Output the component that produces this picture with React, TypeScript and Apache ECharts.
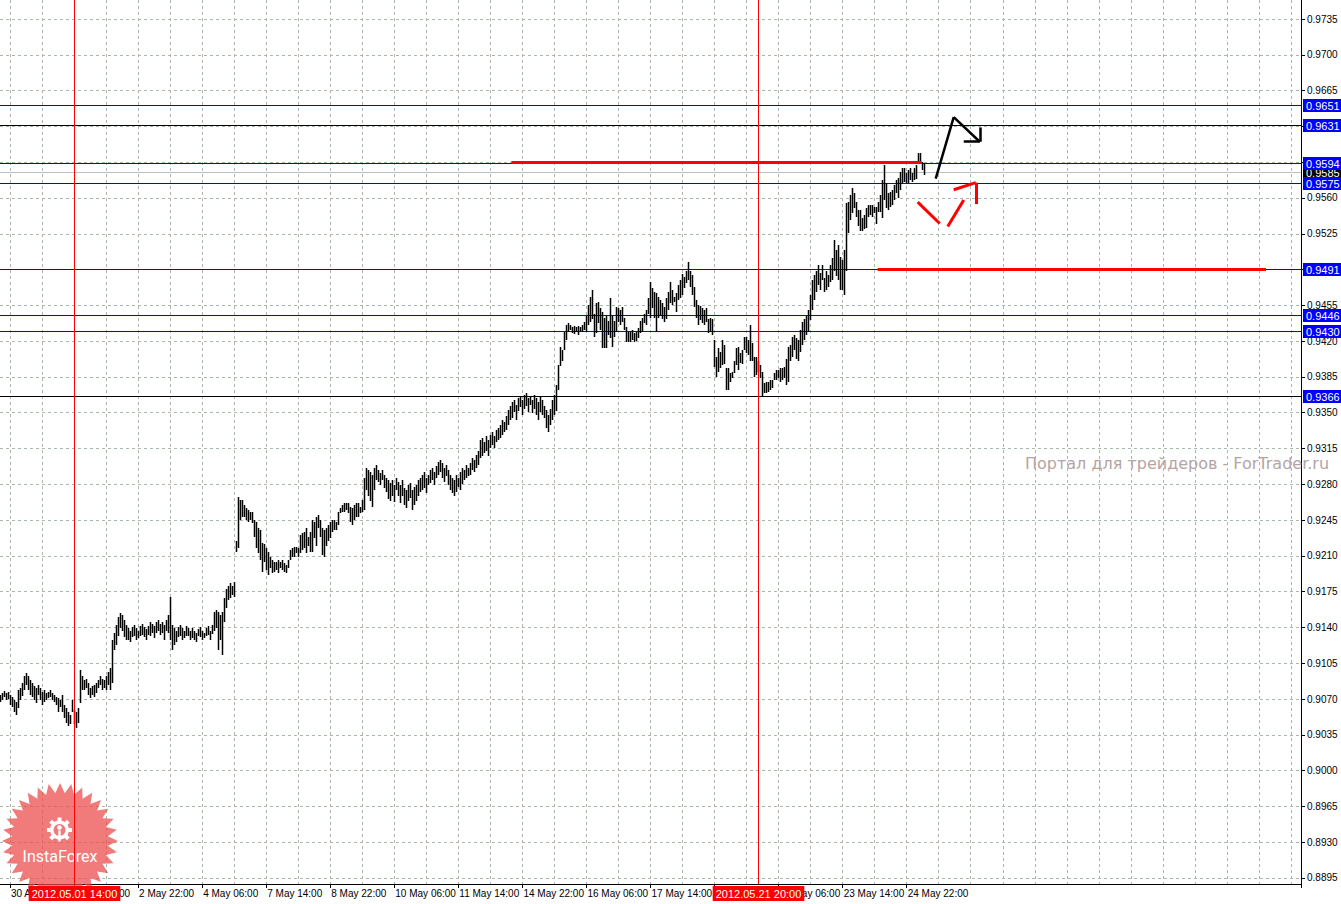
import React, { useEffect, useRef } from "react";
import * as echarts from "echarts";

// Bar highs / lows in pips (price * 10000), one H1 bar per category, starting at 30 Apr 01:00
const highs = [
  9074,9076,9078,9076,9077,9074,9072,9069,9067,9079,9081,9086,9093,9095,9093,9089,
  9086,9083,9081,9084,9081,9077,9079,9076,9077,9079,9076,9074,9072,9071,9069,9074,
  9064,9061,9057,9054,9069,9059,9057,9061,9098,9093,9089,9090,9086,9081,9083,9084,
  9086,9089,9093,9090,9089,9093,9096,9100,9128,9135,9142,9150,9154,9152,9147,9142,
  9139,9137,9140,9142,9139,9137,9141,9143,9140,9138,9141,9145,9143,9141,9145,9147,
  9143,9145,9142,9147,9152,9170,9142,9139,9137,9140,9142,9139,9137,9141,9139,9137,
  9139,9137,9135,9138,9140,9137,9135,9139,9141,9137,9142,9155,9157,9155,9152,9155,
  9169,9178,9181,9183,9181,9184,9225,9268,9265,9265,9260,9257,9255,9253,9253,9245,
  9243,9237,9235,9223,9222,9218,9214,9209,9206,9204,9204,9206,9204,9206,9203,9201,
  9206,9216,9218,9219,9219,9218,9230,9232,9233,9237,9228,9233,9245,9243,9248,9250,
  9245,9237,9235,9237,9240,9243,9245,9245,9243,9253,9257,9260,9262,9262,9262,9258,
  9257,9260,9262,9262,9258,9265,9286,9296,9294,9292,9289,9296,9299,9294,9291,9294,
  9289,9286,9284,9281,9284,9279,9286,9282,9279,9284,9276,9274,9279,9281,9274,9277,
  9279,9284,9286,9289,9292,9286,9289,9294,9296,9292,9298,9302,9304,9301,9296,9299,
  9294,9289,9286,9284,9289,9286,9292,9296,9294,9299,9296,9301,9306,9304,9309,9313,
  9323,9325,9321,9327,9323,9328,9331,9327,9333,9335,9338,9343,9341,9347,9353,9357,
  9360,9362,9358,9364,9366,9362,9367,9369,9364,9366,9362,9367,9364,9360,9365,9362,
  9357,9353,9348,9354,9362,9367,9377,9397,9414,9411,9429,9436,9438,9436,9434,9435,
  9434,9435,9434,9436,9439,9445,9455,9463,9470,9447,9457,9458,9452,9448,9443,9445,
  9440,9462,9445,9440,9453,9452,9450,9453,9443,9434,9429,9429,9431,9428,9429,9433,
  9440,9443,9447,9450,9462,9478,9472,9468,9467,9463,9460,9457,9453,9462,9468,9478,
  9470,9463,9467,9475,9480,9486,9483,9489,9497,9489,9485,9473,9460,9455,9454,9452,
  9450,9452,9442,9443,9442,9421,9404,9413,9409,9421,9416,9394,9394,9389,9390,9401,
  9413,9414,9408,9411,9424,9424,9421,9436,9418,9404,9404,9401,9397,9390,9379,9380,
  9380,9382,9382,9389,9392,9392,9394,9394,9395,9403,9414,9416,9424,9426,9423,9421,
  9431,9439,9442,9445,9450,9465,9480,9485,9489,9494,9487,9494,9482,9489,9485,9494,
  9501,9519,9509,9514,9502,9499,9509,9555,9556,9563,9570,9565,9556,9548,9548,9540,
  9543,9550,9553,9553,9553,9551,9551,9556,9563,9578,9592,9575,9565,9566,9568,9573,
  9578,9580,9585,9589,9589,9584,9587,9589,9584,9589,9592,9604,9604,9595,9594,
];
const lows = [
  9067,9069,9072,9069,9070,9064,9062,9057,9054,9061,9069,9073,9079,9084,9079,9074,
  9072,9069,9066,9074,9069,9064,9067,9069,9071,9072,9069,9067,9064,9057,9062,9057,
  9051,9047,9044,9046,9057,9046,9042,9047,9066,9079,9079,9081,9074,9071,9074,9072,
  9076,9081,9084,9079,9081,9079,9084,9079,9086,9118,9123,9132,9139,9137,9131,9128,
  9128,9126,9131,9132,9128,9130,9132,9133,9131,9128,9133,9132,9135,9130,9135,9137,
  9133,9135,9128,9137,9135,9128,9118,9123,9126,9131,9132,9128,9130,9132,9132,9128,
  9130,9128,9126,9132,9131,9128,9130,9132,9133,9128,9134,9137,9139,9118,9128,9113,
  9145,9159,9167,9169,9172,9170,9214,9218,9245,9248,9248,9245,9243,9245,9242,9228,
  9218,9213,9206,9194,9204,9196,9191,9198,9193,9194,9196,9193,9198,9196,9194,9193,
  9198,9206,9209,9209,9213,9209,9213,9216,9218,9213,9220,9214,9214,9227,9220,9237,
  9228,9211,9209,9220,9225,9227,9233,9235,9235,9240,9252,9253,9253,9255,9252,9243,
  9240,9245,9248,9248,9252,9253,9255,9274,9269,9264,9258,9274,9284,9282,9279,9284,
  9276,9272,9266,9264,9269,9263,9274,9269,9262,9269,9260,9257,9264,9267,9255,9260,
  9264,9269,9272,9274,9276,9271,9279,9281,9284,9279,9286,9289,9292,9286,9282,9288,
  9279,9274,9271,9269,9272,9277,9274,9280,9284,9286,9288,9289,9294,9292,9296,9299,
  9306,9308,9311,9313,9308,9315,9318,9315,9321,9323,9325,9328,9331,9333,9338,9343,
  9345,9351,9343,9352,9356,9348,9354,9357,9351,9358,9350,9354,9348,9343,9351,9348,
  9345,9335,9331,9338,9343,9348,9352,9372,9396,9401,9411,9421,9429,9431,9428,9427,
  9429,9426,9429,9429,9431,9429,9436,9439,9442,9424,9428,9438,9431,9413,9413,9413,
  9426,9423,9414,9424,9429,9439,9436,9439,9431,9419,9419,9419,9421,9419,9420,9423,
  9428,9429,9438,9436,9447,9443,9452,9443,9429,9443,9445,9442,9439,9442,9450,9457,
  9455,9458,9448,9460,9462,9465,9472,9477,9480,9473,9465,9453,9443,9436,9441,9438,
  9436,9439,9428,9429,9426,9395,9385,9390,9394,9397,9398,9372,9372,9380,9384,9389,
  9397,9392,9399,9398,9411,9408,9406,9401,9401,9385,9387,9390,9384,9365,9369,9369,
  9370,9372,9374,9382,9382,9384,9380,9382,9384,9377,9380,9401,9404,9411,9403,9401,
  9409,9416,9421,9426,9429,9441,9450,9460,9468,9475,9470,9480,9468,9470,9473,9478,
  9480,9489,9484,9480,9470,9470,9465,9489,9526,9538,9545,9550,9541,9533,9528,9528,
  9530,9531,9541,9543,9541,9545,9535,9546,9546,9540,9558,9550,9548,9551,9553,9558,
  9565,9560,9568,9575,9576,9575,9575,9578,9576,9578,9579,9594,9594,9587,9582,
];

// Time axis tick labels (every 32 bars, first at bar index 5)
const timeLabels = [
  "30 Apr 06:00", "1 May 14:00", "2 May 22:00", "4 May 06:00", "7 May 14:00",
  "8 May 22:00", "10 May 06:00", "11 May 14:00", "14 May 22:00", "16 May 06:00",
  "17 May 14:00", "18 May 22:00", "22 May 06:00", "23 May 14:00", "24 May 22:00",
];
const priceTicks = [
  0.8895, 0.8930, 0.8965, 0.9000, 0.9035, 0.9070, 0.9105, 0.9140, 0.9175,
  0.9210, 0.9245, 0.9280, 0.9315, 0.9350, 0.9385, 0.9420, 0.9455, 0.9490,
  0.9525, 0.9560, 0.9595, 0.9630, 0.9665, 0.9700, 0.9735,
];

// Horizontal levels
const levelValues = [0.9585, 0.9651, 0.9631, 0.9594, 0.9575, 0.9491, 0.9446, 0.9430, 0.9366];
const levelLineColors = ["#c0c0c0", "#0000ff", "#000000", "#0000ff", "#0000ff", "#0000ff", "#0000ff", "#0000ff", "#000000"];
const levelLabelColors = ["#000000", "#0000ff", "#0000ff", "#0000ff", "#0000ff", "#0000ff", "#0000ff", "#0000ff", "#0000ff"];

// Vertical markers (bar index)
const vLineBars = [37, 379];
const vLineLabels = ["2012.05.01 14:00", "2012.05.21 20:00"];

// Drawn trend lines: [barFrom, priceFrom, barTo, priceTo]
const redLevels = [
  [255, 0.9595, 460, 0.9595],
  [438, 0.9490, 632, 0.9490],
];
const blackArrow = [
  [467, 0.9579, 476, 0.9639],
  [476, 0.9639, 489, 0.9615],
  [481, 0.9615, 489, 0.9615],
  [489, 0.9629, 489, 0.9615],
];
const redArrow = [
  [458, 0.9556, 469, 0.9535],
  [473, 0.9532, 481, 0.9558],
  [476, 0.9568, 487, 0.9575],
  [487, 0.9575, 487, 0.9554],
];

const N_CATS = 650;
const FIRST_TICK = 5;
const Y_MIN = 0.88891;
const Y_MAX = 0.97536;

const FONT = "'Liberation Sans', Arial, sans-serif";

function labelIndex(i: number): number {
  const k = i - FIRST_TICK;
  if (k < 0 || k % 32 !== 0) return -1;
  const n = k / 32;
  return n < timeLabels.length ? n : -1;
}

export default function App() {
  const ref = useRef<HTMLDivElement>(null);

  useEffect(() => {
    if (!ref.current) return;
    const chart = echarts.init(ref.current, undefined, { renderer: "svg" });

    const cats = Array.from({ length: N_CATS }, (_, i) => String(i));
    const bars = highs.map((h, i) => [i, h / 10000, lows[i] / 10000]);

    const gridLine = { color: "#a9b9a9", type: [3, 3] as any, width: 1 };

    const segs = (arr: number[][], color: string, width: number) =>
      arr.map((s) => [
        { coord: [s[0], s[1]], lineStyle: { color, width, type: "solid" } },
        { coord: [s[2], s[3]] },
      ]);

    // star for logo
    const starPts: number[][] = [];
    const spikes = 32;
    const cx = 60, cy = 841;
    for (let i = 0; i < spikes * 2; i++) {
      const r = i % 2 === 0 ? 58 : 48;
      const a = (Math.PI * i) / spikes - Math.PI / 2;
      starPts.push([cx + r * Math.cos(a), cy + r * Math.sin(a)]);
    }
    const teeth: any[] = [];
    for (let i = 0; i < 8; i++) {
      if (i === 4) continue;
      teeth.push({
        type: "rect",
        x: 59.5,
        y: 830,
        rotation: (i * Math.PI) / 4,
        shape: { x: -2, y: -12.5, width: 4, height: 4 },
        style: { fill: "#ffffff" },
        z: 1,
        silent: true,
      });
    }

    chart.setOption({
      animation: false,
      backgroundColor: "#ffffff",
      grid: { left: 0, top: 0, right: 40, bottom: 20, containLabel: false },
      xAxis: {
        type: "category",
        data: cats,
        boundaryGap: true,
        axisLine: { show: true, lineStyle: { color: "#000", width: 1 } },
        axisTick: {
          show: true,
          interval: (i: number) => labelIndex(i) >= 0,
          length: 4,
          lineStyle: { color: "#000" },
        },
        axisLabel: {
          show: true,
          interval: (i: number) => labelIndex(i) >= 0,
          formatter: (v: string) => {
            const n = labelIndex(Number(v));
            return n >= 0 ? timeLabels[n] : "";
          },
          align: "left",
          margin: 4,
          fontSize: 10,
          fontFamily: FONT,
          color: "#000",
        },
        splitLine: {
          show: true,
          interval: (i: number) => i >= FIRST_TICK && (i - FIRST_TICK) % 16 === 0,
          lineStyle: gridLine,
        },
      },
      yAxis: {
        type: "value",
        position: "right",
        min: Y_MIN,
        max: Y_MAX,
        axisLine: { show: true, lineStyle: { color: "#000", width: 1 } },
        axisTick: { show: true, length: 4, customValues: priceTicks, lineStyle: { color: "#000" } },
        axisLabel: {
          customValues: priceTicks,
          formatter: (v: number) => v.toFixed(4),
          margin: 6,
          fontSize: 10,
          fontFamily: FONT,
          color: "#000",
        },
        splitLine: { show: true, lineStyle: gridLine },
      },
      graphic: [
        {
          type: "polygon",
          shape: { points: starPts },
          style: { fill: "rgba(236,70,70,0.72)" },
          z: 1,
          silent: true,
        },
        {
          type: "ring",
          shape: { cx: 59.5, cy: 830, r: 9.5, r0: 6 },
          style: { fill: "#ffffff" },
          z: 1,
          silent: true,
        },
        ...teeth,
        {
          type: "circle",
          shape: { cx: 59.5, cy: 827.5, r: 2.3 },
          style: { fill: "#ffffff" },
          z: 1,
          silent: true,
        },
        {
          type: "rect",
          shape: { x: 58.3, y: 830.5, width: 2.4, height: 11 },
          style: { fill: "#ffffff" },
          z: 1,
          silent: true,
        },
        {
          type: "text",
          x: 60,
          y: 856,
          style: {
            text: "InstaForex",
            fill: "#ffffff",
            font: "16px Roboto, sans-serif",
            textAlign: "center",
            textVerticalAlign: "middle",
          },
          z: 1,
          silent: true,
        },
        {
          type: "text",
          x: 1025,
          y: 463,
          style: {
            text: "Портал для трейдеров - ForTrader.ru",
            fill: "#b4a4a4",
            font: "16px 'DejaVu Sans', sans-serif",
            textAlign: "left",
            textVerticalAlign: "middle",
          },
          z: 1,
          silent: true,
        },
      ],
      series: [
        {
          type: "custom",
          name: "bars",
          data: bars,
          encode: { x: 0, y: [1, 2] },
          z: 4,
          renderItem: (params: any, api: any) => {
            const x = api.value(0);
            const hi = api.coord([x, api.value(1)]);
            const lo = api.coord([x, api.value(2)]);
            const px = Math.floor(hi[0]) - 1.25;
            const y0 = Math.round(hi[1]);
            const y1 = Math.round(lo[1]);
            return {
              type: "rect",
              shape: { x: px, y: y0, width: 1.5, height: Math.max(1, y1 - y0) },
              style: { fill: "#000000" },
            };
          },
        },
        {
          type: "custom",
          name: "levels",
          data: levelValues.map((v, i) => [0, v, i]),
          encode: { x: 0, y: 1 },
          z: 3,
          clip: false,
          renderItem: (params: any, api: any) => {
            const cs = params.coordSys;
            const v = api.value(1);
            const i = api.value(2);
            const yy = Math.round(api.coord([0, v])[1]);
            const col = levelLineColors[i];
            return {
              type: "group",
              children: [
                {
                  type: "rect",
                  shape: { x: cs.x, y: yy, width: cs.width, height: 1 },
                  style: { fill: col, stroke: null },
                },
                {
                  type: "text",
                  x: cs.x + cs.width + 2,
                  y: yy + 0.5,
                  style: {
                    text: v.toFixed(4),
                    fill: "#ffffff",
                    backgroundColor: levelLabelColors[i],
                    padding: [1, 4, 1, 3],
                    font: "11px " + FONT,
                    textVerticalAlign: "middle",
                    textAlign: "left",
                  },
                },
              ],
            };
          },
        },
        {
          type: "custom",
          name: "vlines",
          data: vLineBars.map((b, i) => [b, Y_MIN, i]),
          encode: { x: 0, y: 1 },
          z: 5,
          clip: false,
          renderItem: (params: any, api: any) => {
            const cs = params.coordSys;
            const b = api.value(0);
            const i = api.value(2);
            const xx = Math.floor(api.coord([b, Y_MIN])[0]) - 1;
            return {
              type: "group",
              children: [
                {
                  type: "rect",
                  shape: { x: xx, y: cs.y, width: 1, height: cs.height },
                  style: { fill: "#ff0000", stroke: null },
                },
                {
                  type: "text",
                  x: xx + 0.5,
                  y: cs.y + cs.height + 2,
                  style: {
                    text: vLineLabels[i],
                    fill: "#ffffff",
                    backgroundColor: "#ff0000",
                    padding: [2, 3, 2, 3],
                    font: "11px " + FONT,
                    textVerticalAlign: "top",
                    textAlign: "center",
                  },
                },
              ],
            };
          },
        },
        {
          type: "line",
          name: "drawings",
          data: [],
          z: 6,
          markLine: {
            silent: true,
            symbol: ["none", "none"],
            animation: false,
            precision: 4,
            label: { show: false },
            data: [
              ...segs(redLevels, "#ff0000", 3),
              ...segs(blackArrow, "#000000", 2.5),
              ...segs(redArrow, "#ff0000", 3),
            ],
          },
        },
      ],
    });

    return () => chart.dispose();
  }, []);

  return (
    <div
      ref={ref}
      style={{ position: "absolute", left: 0, top: 0, width: 1341, height: 904, background: "#fff" }}
    />
  );
}
